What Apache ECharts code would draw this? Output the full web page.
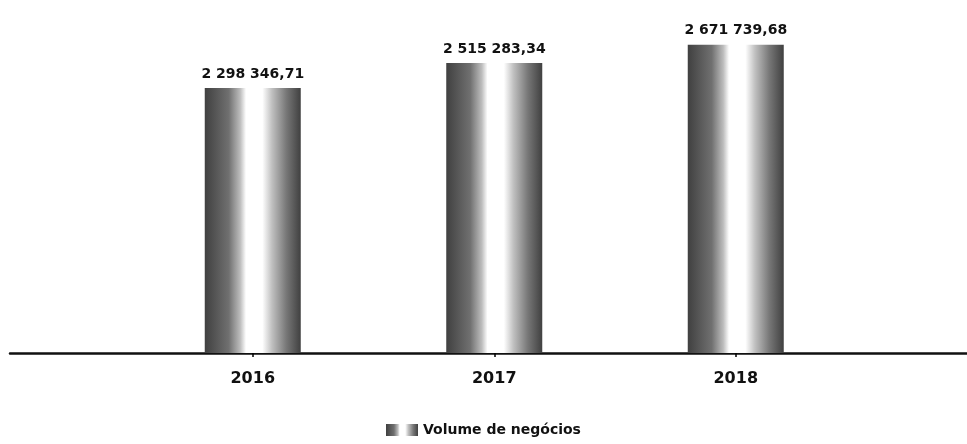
<!DOCTYPE html>
<html>
<head>
<meta charset="utf-8">
<script src="https://cdn.jsdelivr.net/npm/echarts@6/dist/echarts.min.js"></script>
<style>
html,body{margin:0;padding:0;background:#fff;}
#chart{width:967px;height:444px;}
</style>
</head>
<body>
<div id="chart"></div>
<script>
const categories = ["2016", "2017", "2018"];
const volumeValues = [2298346.71, 2515283.34, 2671739.68];
const seriesName = "Volume de negócios";

function fmt(v) {
  const parts = v.toFixed(2).split(".");
  const intPart = parts[0].replace(/\B(?=(\d{3})+(?!\d))/g, " ");
  return intPart + "," + parts[1];
}

const barFill = new echarts.graphic.LinearGradient(0, 0, 1, 0, [
  { offset: 0, color: "#404040" },
  { offset: 0.25, color: "#707070" },
  { offset: 0.37, color: "#bdbdbd" },
  { offset: 0.43, color: "#ffffff" },
  { offset: 0.6, color: "#ffffff" },
  { offset: 0.7, color: "#c0c0c0" },
  { offset: 0.85, color: "#777777" },
  { offset: 1, color: "#404040" }
]);

const font = "'DejaVu Sans', sans-serif";
const chart = echarts.init(document.getElementById("chart"), null, { renderer: "canvas" });
chart.setOption({
  animation: false,
  backgroundColor: "#ffffff",
  grid: [
    { left: 132, width: 724.5, top: 7, bottom: 91 },
    { left: 10, right: 0, top: 7, bottom: 91 }
  ],
  xAxis: [
    {
      type: "category", gridIndex: 0, data: categories,
      axisLine: { show: false },
      axisTick: { show: true, alignWithLabel: true, length: 4, lineStyle: { color: "#000", width: 1.5 } },
      axisLabel: { margin: 18, color: "#111", fontFamily: font, fontWeight: "bold", fontSize: 16 }
    },
    {
      type: "value", gridIndex: 1, min: 0, max: 1,
      axisLine: { show: true, lineStyle: { color: "#111", width: 2.5 } },
      axisTick: { show: false }, axisLabel: { show: false }, splitLine: { show: false }
    }
  ],
  yAxis: [
    { type: "value", gridIndex: 0, min: 0, max: 3000000, show: false, splitLine: { show: false } },
    { type: "value", gridIndex: 1, min: 0, max: 1, show: false, splitLine: { show: false } }
  ],
  legend: {
    bottom: 2, left: 381,
    itemWidth: 32, itemHeight: 12, itemGap: 10,
    textStyle: { color: "#111", fontFamily: font, fontWeight: "bold", fontSize: 14 },
    data: [{ name: seriesName, icon: "rect" }]
  },
  series: [
    {
      name: seriesName, type: "bar", xAxisIndex: 0, yAxisIndex: 0,
      data: volumeValues, barWidth: 96,
      itemStyle: { color: barFill },
      label: {
        show: true, position: "top", distance: 7,
        color: "#111", fontFamily: font, fontWeight: "bold", fontSize: 14,
        formatter: p => fmt(p.value)
      }
    },
    {
      type: "scatter", xAxisIndex: 1, yAxisIndex: 1, data: [], silent: true
    }
  ]
});
</script>
</body>
</html>
